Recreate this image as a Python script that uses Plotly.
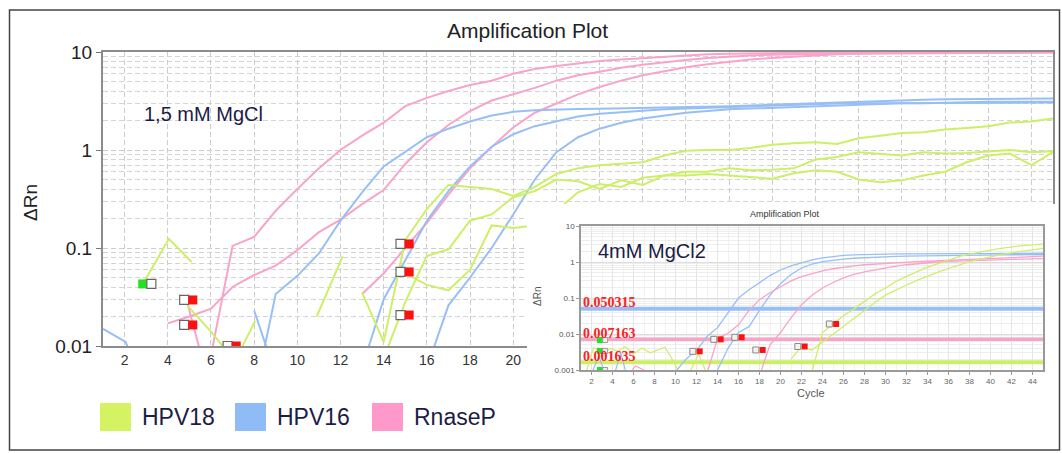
import math
import plotly.graph_objects as go

W, H = 1062, 453

# ================= DATA =================
# ---- main panel: 1,5 mM MgCl  (cycle -> delta Rn) ----
MAIN_HPV18_A_START = 13
MAIN_HPV18_A = [0.035, 0.011, 0.12, 0.25, 0.44, 0.42, 0.40, 0.34, 0.42, 0.57,
                0.65, 0.70, 0.72, 0.75, 0.88, 0.98, 1.0, 1.0, 1.05, 1.13,
                1.17, 1.2, 1.15, 1.32, 1.4, 1.49, 1.52, 1.62, 1.68, 1.75,
                1.91, 1.95, 2.1]
MAIN_HPV18_B_START = 14
MAIN_HPV18_B = [0.0075, 0.028, 0.083, 0.097, 0.19, 0.22, 0.33, 0.38, 0.50, 0.48,
                0.40, 0.49, 0.44, 0.55, 0.60, 0.60, 0.65, 0.62, 0.63, 0.65,
                0.80, 0.85, 0.95, 0.92, 0.88, 0.95, 0.92, 0.93, 0.97, 1.0,
                0.95, 0.97]
MAIN_HPV18_C_START = 15
MAIN_HPV18_C = [0.055, 0.042, 0.037, 0.06, 0.17, 0.16, 0.17, 0.24, 0.37, 0.45,
                0.42, 0.52, 0.55, 0.55, 0.57, 0.55, 0.53, 0.51, 0.58, 0.62,
                0.60, 0.50, 0.47, 0.49, 0.55, 0.60, 0.75, 0.88, 0.92, 0.70,
                0.95]
MAIN_HPV18_FRAG_A_X = [2.9, 4.05, 5.1]
MAIN_HPV18_FRAG_A_Y = [0.045, 0.124, 0.072]
MAIN_HPV18_FRAG_B_X = [4.9, 6.0, 6.8, 7.3, 8.05]
MAIN_HPV18_FRAG_B_Y = [0.026, 0.014, 0.0085, 0.0085, 0.018]
MAIN_HPV18_FRAG_C_X = [10.9, 12.1]
MAIN_HPV18_FRAG_C_Y = [0.020, 0.082]

MAIN_HPV16_A_START = 8
MAIN_HPV16_A = [0.003, 0.034, 0.052, 0.088, 0.19, 0.37, 0.68, 0.96, 1.35, 1.65,
                1.95, 2.25, 2.45, 2.55, 2.6, 2.62, 2.63, 2.65, 2.68, 2.7,
                2.72, 2.75, 2.8, 2.85, 2.9, 2.97, 3.0, 3.05, 3.1, 3.15,
                3.2, 3.25, 3.3, 3.3, 3.32, 3.35, 3.35, 3.35]
MAIN_HPV16_B_START = 13
MAIN_HPV16_B = [0.006, 0.030, 0.075, 0.19, 0.38, 0.68, 1.08, 1.45, 1.75, 1.95,
                2.2, 2.35, 2.45, 2.52, 2.6, 2.65, 2.7, 2.75, 2.8, 2.85,
                2.9, 2.95, 2.98, 3.0, 3.0, 3.02, 3.05, 3.05, 3.05, 3.05,
                3.05, 3.05, 3.05]
MAIN_HPV16_C_START = 16
MAIN_HPV16_C = [0.006, 0.026, 0.05, 0.10, 0.22, 0.50, 0.95, 1.35, 1.65, 1.9,
                2.1, 2.25, 2.4, 2.5, 2.6, 2.65, 2.7, 2.75, 2.8, 2.85,
                2.9, 2.95, 3.0, 3.0, 3.05, 3.05, 3.1, 3.1, 3.1, 3.1]
MAIN_HPV16_FRAG_A_X = [1, 2.05, 2.5]
MAIN_HPV16_FRAG_A_Y = [0.015, 0.011, 0.006]
MAIN_HPV16_FRAG_B_X = [8.0, 8.7]
MAIN_HPV16_FRAG_B_Y = [0.023, 0.008]

MAIN_RNASEP_A_START = 6
MAIN_RNASEP_A = [0.008, 0.105, 0.13, 0.24, 0.40, 0.65, 1.0, 1.4, 1.9, 2.8,
                 3.4, 4.0, 4.6, 5.1, 6.0, 6.7, 7.2, 7.7, 8.1, 8.4,
                 8.7, 9.0, 9.3, 9.5, 9.6, 9.7, 9.75, 9.8, 9.85, 9.9,
                 9.9, 9.92, 9.94, 9.95, 9.96, 9.97, 9.98, 9.98, 9.99, 9.99]
MAIN_RNASEP_B_START = 4
MAIN_RNASEP_B = [0.017, 0.020, 0.024, 0.040, 0.053, 0.066, 0.095, 0.145, 0.195, 0.28,
                 0.39, 0.72, 1.2, 1.8, 2.5, 3.2, 3.7, 4.3, 5.1, 5.8,
                 6.3, 6.9, 7.4, 7.9, 8.3, 8.7, 9.0, 9.2, 9.4, 9.5,
                 9.6, 9.65, 9.7, 9.75, 9.8, 9.8, 9.85, 9.85, 9.9, 9.9,
                 9.9, 9.9]
MAIN_RNASEP_C_START = 13
MAIN_RNASEP_C = [0.034, 0.055, 0.10, 0.18, 0.35, 0.65, 1.07, 1.7, 2.4, 3.0,
                 3.7, 4.4, 5.1, 5.8, 6.4, 7.0, 7.5, 8.0, 8.4, 8.7,
                 9.0, 9.3, 9.5, 9.6, 9.65, 9.7, 9.75, 9.8, 9.8, 9.85,
                 9.85, 9.9, 9.9]
MAIN_RNASEP_FRAG_X = [4.9, 5.7]
MAIN_RNASEP_FRAG_Y = [0.028, 0.006]

MAIN_CT_X = [4.96, 4.96, 6.97, 14.98, 14.98, 14.98]
MAIN_CT_Y = [0.0295, 0.0164, 0.0100, 0.11, 0.057, 0.0207]
MAIN_CT_GREEN_X = [3.04]
MAIN_CT_GREEN_Y = [0.043]

MAIN_X_TICKS = list(range(2, 46, 2))
MAIN_X_LABELS = [str(c) if c <= 20 else "" for c in MAIN_X_TICKS]  # rest hidden by inset
MAIN_Y_TICKS = [0.01, 0.1, 1, 10]
MAIN_Y_LABELS = ["0.01", "0.1", "1", "10"]

# ---- inset panel: 4mM MgCl2 ----
IN_HPV16_A_START = 10
IN_HPV16_A = [0.0009, 0.002, 0.0035, 0.0085, 0.015, 0.04, 0.10, 0.17, 0.27, 0.42,
              0.60, 0.78, 0.95, 1.15, 1.3, 1.42, 1.52, 1.58, 1.62, 1.65,
              1.67, 1.68, 1.69, 1.7, 1.7, 1.71, 1.72, 1.72, 1.73, 1.73,
              1.74, 1.74, 1.75, 1.75, 1.75, 1.75]
IN_HPV16_B_START = 14
IN_HPV16_B = [0.001, 0.004, 0.011, 0.016, 0.045, 0.12, 0.25, 0.45, 0.68, 0.88,
              1.02, 1.12, 1.2, 1.27, 1.32, 1.36, 1.4, 1.43, 1.46, 1.48,
              1.5, 1.52, 1.53, 1.54, 1.55, 1.56, 1.57, 1.58, 1.59, 1.6,
              1.6, 1.6]
IN_RNASEP_A_START = 13
IN_RNASEP_A = [0.0008, 0.0075, 0.0105, 0.018, 0.045, 0.09, 0.14, 0.21, 0.30, 0.39,
               0.48, 0.57, 0.65, 0.72, 0.78, 0.84, 0.88, 0.92, 0.96, 0.99,
               1.02, 1.05, 1.08, 1.1, 1.13, 1.16, 1.2, 1.24, 1.28, 1.32,
               1.36, 1.4, 1.45]
IN_RNASEP_B_START = 18
IN_RNASEP_B = [0.0007, 0.005, 0.011, 0.028, 0.065, 0.12, 0.19, 0.27, 0.36, 0.45,
               0.53, 0.61, 0.69, 0.77, 0.84, 0.9, 0.96, 1.0, 1.04, 1.07,
               1.1, 1.12, 1.14, 1.16, 1.18, 1.2, 1.22, 1.24]
IN_HPV18_A_START = 23
IN_HPV18_A = [0.0009, 0.011, 0.019, 0.032, 0.05, 0.08, 0.13, 0.19, 0.29, 0.40,
              0.55, 0.72, 0.9, 1.15, 1.4, 1.65, 1.92, 2.15, 2.4, 2.65,
              2.85, 3.0, 3.15]
IN_HPV18_B_START = 21
IN_HPV18_B = [0.002, 0.0045, 0.0036, 0.006, 0.010, 0.017, 0.027, 0.045, 0.075, 0.12,
              0.17, 0.23, 0.31, 0.41, 0.52, 0.66, 0.82, 1.02, 1.2, 1.4,
              1.6, 1.8, 2.0, 2.2, 2.4]
IN_HPV18_NOISE_A_X = [1.5, 2.2, 3.0, 3.8, 4.5, 5.2, 6.0, 6.8, 7.6, 8.4, 9.0, 9.6, 10.3]
IN_HPV18_NOISE_A_Y = [0.0009, 0.0042, 0.0030, 0.0040, 0.0033, 0.0045, 0.0028, 0.0041,
                      0.0030, 0.0036, 0.0043, 0.0022, 0.0009]
IN_HPV18_NOISE_B_X = [11.3, 12.2, 12.9]
IN_HPV18_NOISE_B_Y = [0.0008, 0.0028, 0.0009]
IN_HPV16_NOISE_A_X = [2.0, 2.7, 3.3]
IN_HPV16_NOISE_A_Y = [0.0008, 0.0024, 0.0008]
IN_HPV16_NOISE_B_X = [4.2, 4.8, 5.3]
IN_HPV16_NOISE_B_Y = [0.0008, 0.0030, 0.0008]
IN_RNASEP_NOISE_X = [5.6, 6.2, 7.0]
IN_RNASEP_NOISE_Y = [0.0008, 0.0013, 0.0010]

IN_THRESHOLDS = [0.050315, 0.007163, 0.001635]
IN_THRESHOLD_LABELS = ["0.050315", "0.007163", "0.001635"]

IN_CT_X = [12.0, 14.0, 16.0, 18.0, 22.0, 25.0]
IN_CT_Y = [0.0033, 0.0071, 0.0081, 0.0036, 0.0045, 0.019]
IN_CT_GREEN_X = [2.8, 2.8, 2.8]
IN_CT_GREEN_Y = [0.0068, 0.0034, 0.0010]

IN_X_TICKS = list(range(2, 46, 2))
IN_Y_TICKS = [0.001, 0.01, 0.1, 1, 10]
IN_Y_LABELS = ["0.001", "0.01", "0.1", "1", "10"]

LEGEND_NAMES = ["HPV18", "HPV16", "RnaseP"]

# ================= STYLE =================
GREEN = "#cdef66"
BLUE = "#98bff5"
PINK = "#f9a3cb"
LEG_COLORS = ["#d4f261", "#8fbcf7", "#ff99cc"]
FONT = "Liberation Sans, Arial, sans-serif"


def cyc(start, vals):
    return list(range(start, start + len(vals)))


def px(x):
    return x / W


def py(y):
    return 1 - y / H


fig = go.Figure()


def line(x, y, color, width, axes, name):
    fig.add_trace(go.Scatter(x=x, y=y, mode="lines", name=name,
                             line=dict(color=color, width=width),
                             xaxis=axes[0], yaxis=axes[1],
                             showlegend=False, hoverinfo="skip"))


MAIN = ("x", "y")
INSET = ("x3", "y3")

# ---- main panel lines ----
for s, v in [(MAIN_RNASEP_A_START, MAIN_RNASEP_A), (MAIN_RNASEP_B_START, MAIN_RNASEP_B),
             (MAIN_RNASEP_C_START, MAIN_RNASEP_C)]:
    line(cyc(s, v), v, PINK, 2, MAIN, "RnaseP")
line(MAIN_RNASEP_FRAG_X, MAIN_RNASEP_FRAG_Y, PINK, 2, MAIN, "RnaseP")
for s, v in [(MAIN_HPV16_A_START, MAIN_HPV16_A), (MAIN_HPV16_B_START, MAIN_HPV16_B),
             (MAIN_HPV16_C_START, MAIN_HPV16_C)]:
    line(cyc(s, v), v, BLUE, 2, MAIN, "HPV16")
line(MAIN_HPV16_FRAG_A_X, MAIN_HPV16_FRAG_A_Y, BLUE, 2, MAIN, "HPV16")
line(MAIN_HPV16_FRAG_B_X, MAIN_HPV16_FRAG_B_Y, BLUE, 2, MAIN, "HPV16")
for s, v in [(MAIN_HPV18_A_START, MAIN_HPV18_A), (MAIN_HPV18_B_START, MAIN_HPV18_B),
             (MAIN_HPV18_C_START, MAIN_HPV18_C)]:
    line(cyc(s, v), v, GREEN, 2, MAIN, "HPV18")
line(MAIN_HPV18_FRAG_A_X, MAIN_HPV18_FRAG_A_Y, GREEN, 2, MAIN, "HPV18")
line(MAIN_HPV18_FRAG_B_X, MAIN_HPV18_FRAG_B_Y, GREEN, 2, MAIN, "HPV18")
line(MAIN_HPV18_FRAG_C_X, MAIN_HPV18_FRAG_C_Y, GREEN, 2, MAIN, "HPV18")

# main Ct markers (white box + red box)
fig.add_trace(go.Scatter(x=[c - 0.2 for c in MAIN_CT_X], y=MAIN_CT_Y, mode="markers",
                         marker=dict(symbol="square", size=9, color="white",
                                     line=dict(color="#666", width=1.2)),
                         showlegend=False, hoverinfo="skip"))
fig.add_trace(go.Scatter(x=[c + 0.2 for c in MAIN_CT_X], y=MAIN_CT_Y, mode="markers",
                         marker=dict(symbol="square", size=9, color="#ff1010",
                                     line=dict(width=0)),
                         showlegend=False, hoverinfo="skip"))
fig.add_trace(go.Scatter(x=[c - 0.2 for c in MAIN_CT_GREEN_X], y=MAIN_CT_GREEN_Y, mode="markers",
                         marker=dict(symbol="square", size=9, color="#22e022",
                                     line=dict(width=0)),
                         showlegend=False, hoverinfo="skip"))
fig.add_trace(go.Scatter(x=[c + 0.2 for c in MAIN_CT_GREEN_X], y=MAIN_CT_GREEN_Y, mode="markers",
                         marker=dict(symbol="square", size=9, color="white",
                                     line=dict(color="#666", width=1.2)),
                         showlegend=False, hoverinfo="skip"))

# ---- cover panel (white backing of the inset picture) ----
fig.add_trace(go.Scatter(x=[], y=[], xaxis="x2", yaxis="y2", showlegend=False,
                         hoverinfo="skip"))

# ---- inset panel ----
for thr, col, wd in zip(IN_THRESHOLDS, [BLUE, PINK, GREEN], [4, 3.5, 4]):
    line([1, 45], [thr, thr], col, wd, INSET, "threshold")

line(IN_HPV18_NOISE_A_X, IN_HPV18_NOISE_A_Y, GREEN, 1.2, INSET, "HPV18")
line(IN_HPV18_NOISE_B_X, IN_HPV18_NOISE_B_Y, GREEN, 1.2, INSET, "HPV18")
line(IN_HPV16_NOISE_A_X, IN_HPV16_NOISE_A_Y, BLUE, 1.2, INSET, "HPV16")
line(IN_HPV16_NOISE_B_X, IN_HPV16_NOISE_B_Y, BLUE, 1.2, INSET, "HPV16")
line(IN_RNASEP_NOISE_X, IN_RNASEP_NOISE_Y, PINK, 1.2, INSET, "RnaseP")
for s, v in [(IN_HPV16_A_START, IN_HPV16_A), (IN_HPV16_B_START, IN_HPV16_B)]:
    line(cyc(s, v), v, BLUE, 1.3, INSET, "HPV16")
for s, v in [(IN_RNASEP_A_START, IN_RNASEP_A), (IN_RNASEP_B_START, IN_RNASEP_B)]:
    line(cyc(s, v), v, PINK, 1.3, INSET, "RnaseP")
for s, v in [(IN_HPV18_A_START, IN_HPV18_A), (IN_HPV18_B_START, IN_HPV18_B)]:
    line(cyc(s, v), v, GREEN, 1.3, INSET, "HPV18")

fig.add_trace(go.Scatter(x=[c - 0.35 for c in IN_CT_X], y=IN_CT_Y, mode="markers",
                         xaxis="x3", yaxis="y3",
                         marker=dict(symbol="square", size=6, color="#f2f2f2",
                                     line=dict(color="#888", width=1)),
                         showlegend=False, hoverinfo="skip"))
fig.add_trace(go.Scatter(x=[c + 0.3 for c in IN_CT_X], y=IN_CT_Y, mode="markers",
                         xaxis="x3", yaxis="y3",
                         marker=dict(symbol="square", size=6, color="#ff1010",
                                     line=dict(width=0)),
                         showlegend=False, hoverinfo="skip"))
fig.add_trace(go.Scatter(x=IN_CT_GREEN_X, y=IN_CT_GREEN_Y, mode="markers",
                         xaxis="x3", yaxis="y3",
                         marker=dict(symbol="square", size=6, color="#22e022",
                                     line=dict(width=0)),
                         showlegend=False, hoverinfo="skip"))
fig.add_trace(go.Scatter(x=[c + 0.5 for c in IN_CT_GREEN_X], y=IN_CT_GREEN_Y, mode="markers",
                         xaxis="x3", yaxis="y3",
                         marker=dict(symbol="square", size=5, color="#eeeeee",
                                     line=dict(color="#999", width=1)),
                         showlegend=False, hoverinfo="skip"))

# ================= LAYOUT =================
dash = "5px,3px"
fig.update_layout(
    template="none",
    width=W, height=H, margin=dict(l=0, r=0, t=0, b=0, pad=0), autosize=False,
    paper_bgcolor="white", plot_bgcolor="white", showlegend=False,
    font=dict(family=FONT, color="#222"),
    xaxis=dict(domain=[px(103), px(1053)], range=[1, 45], anchor="y", automargin=False,
               tickvals=MAIN_X_TICKS, ticktext=MAIN_X_LABELS, ticks="", showline=True,
               linecolor="#8c8c8c",
               linewidth=2, mirror=True, showgrid=True, gridcolor="#cccccc",
               griddash=dash, zeroline=False,
               tickfont=dict(family=FONT, size=14, color="#333")),
    yaxis=dict(domain=[py(346), py(52)], type="log", range=[-2, 1], anchor="x",
               automargin=False,
               tickvals=MAIN_Y_TICKS, ticktext=MAIN_Y_LABELS, ticks="outside",
               ticklen=5, tickcolor="#777", showline=True, linecolor="#8c8c8c",
               linewidth=2, mirror=True, showgrid=True, gridcolor="#cccccc",
               griddash=dash, zeroline=False,
               minor=dict(showgrid=True, gridcolor="#d4d4d4", griddash=dash,
                          dtick="D1", ticks=""),
               tickfont=dict(family=FONT, size=19, color="#222")),
    xaxis2=dict(domain=[px(527), px(1058)], anchor="y2", visible=False, range=[0, 1],
                fixedrange=True, automargin=False),
    yaxis2=dict(domain=[py(404), py(204)], anchor="x2", visible=False, range=[0, 1],
                fixedrange=True, automargin=False),
    xaxis3=dict(domain=[px(581), px(1043)], range=[1, 45], anchor="y3", automargin=False,
                tickvals=IN_X_TICKS, ticks="outside", ticklen=3, tickcolor="#999",
                showline=True, linecolor="#9a9a9a", linewidth=1.5, mirror=True,
                showgrid=True, gridcolor="#e6e6e6", zeroline=False,
                minor=dict(showgrid=True, gridcolor="#f1f1f1", dtick=1, ticks=""),
                tickfont=dict(family=FONT, size=8, color="#666")),
    yaxis3=dict(domain=[py(370), py(226)], type="log", range=[-3, 1], anchor="x3",
                automargin=False,
                tickvals=IN_Y_TICKS, ticktext=IN_Y_LABELS, ticks="outside", ticklen=3,
                tickcolor="#999", showline=True, linecolor="#9a9a9a", linewidth=1.5,
                mirror=True, showgrid=True, gridcolor="#dddddd", zeroline=False,
                minor=dict(showgrid=True, gridcolor="#eeeeee", dtick="D1", ticks=""),
                tickfont=dict(family=FONT, size=8, color="#555")),
)

# ---- texts ----
ann = []


def text(t, x, y, size, color, angle=0, xanchor="center"):
    ann.append(dict(text=t, x=px(x), y=py(y), xref="paper", yref="paper",
                    xanchor=xanchor, yanchor="middle", showarrow=False, textangle=angle,
                    font=dict(family=FONT, size=size, color=color)))


text("Amplification Plot", 527, 30, 21, "#222")
text("ΔRn", 30, 203, 19, "#222", angle=-90)
text("1,5 mM MgCl", 203, 114, 20, "#1c1c44")
text("4mM MgCl2", 652, 251, 20, "#1c1c44")
text("Amplification Plot", 785, 214, 9, "#333")
text("ΔRn", 537, 297, 10, "#555", angle=-90)
text("Cycle", 811, 393, 11, "#555")
for thr, lab in zip(IN_THRESHOLDS, IN_THRESHOLD_LABELS):
    ann.append(dict(text="<b>" + lab + "</b>", x=1, y=math.log10(thr), xref="x3", yref="y3",
                    xanchor="left", yanchor="middle", xshift=1, yshift=6, showarrow=False,
                    borderpad=0,
                    font=dict(family="Liberation Serif, Times New Roman, serif", size=14,
                              color="#ff2020")))

# legend (squares + labels)
shapes = []
leg_x = [100, 235, 372]
for xs, name, col in zip(leg_x, LEGEND_NAMES, LEG_COLORS):
    shapes.append(dict(type="rect", xref="paper", yref="paper",
                       x0=px(xs), x1=px(xs + 31), y0=py(431), y1=py(403),
                       fillcolor=col, line=dict(width=0)))
    text(name, xs + 40, 417, 23, "#1c1c44", xanchor="left")

# outer frame
shapes.append(dict(type="rect", xref="paper", yref="paper", x0=px(9.5), x1=px(1059.5),
                   y0=py(450), y1=py(10), line=dict(color="#444", width=1.5),
                   fillcolor="rgba(0,0,0,0)"))

fig.update_layout(annotations=ann, shapes=shapes)
fig.write_html("out.html",
               config={"displayModeBar": False},
               post_script="document.body.style.margin='0px';"
                           "document.body.style.overflow='hidden';")
